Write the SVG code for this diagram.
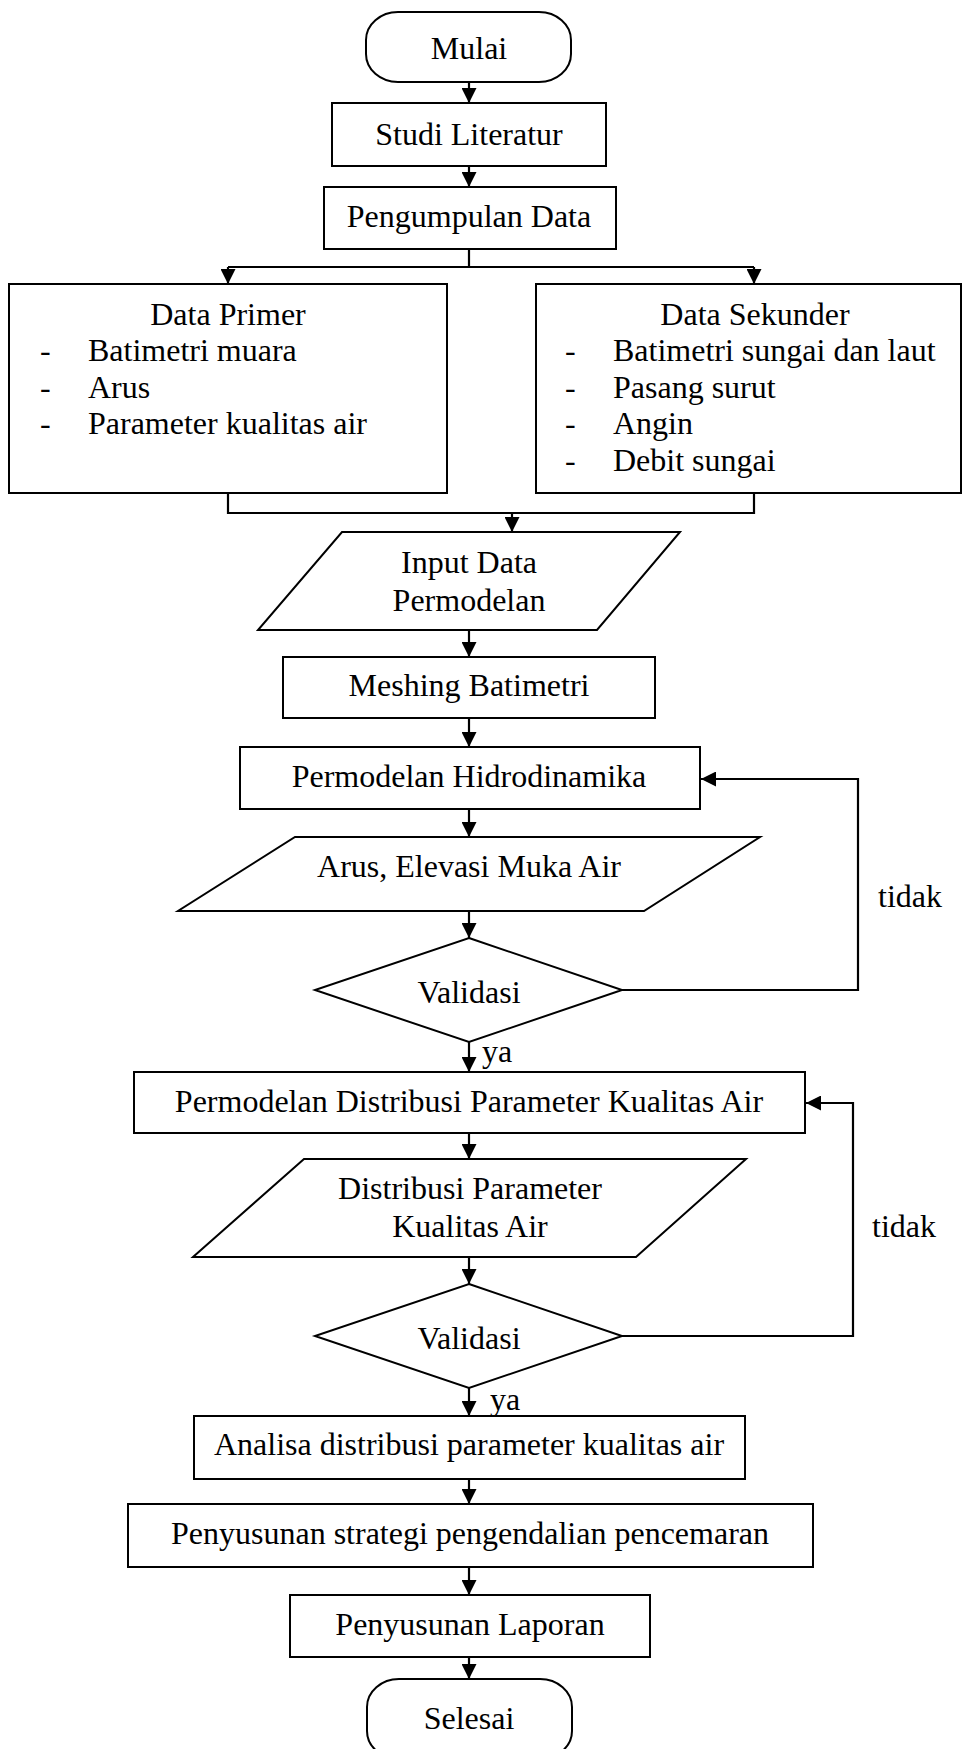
<svg xmlns="http://www.w3.org/2000/svg" width="963" height="1749" viewBox="0 0 963 1749">
<style>
.s{fill:#fff;stroke:#000;stroke-width:2}
.c{fill:none;stroke:#000;stroke-width:2.2}
text{font-family:"Liberation Serif","Times New Roman",serif;font-size:32px;fill:#000}
.m{text-anchor:middle}
</style>
<defs>
<marker id="ah" viewBox="0 0 15 15" refX="15" refY="7.5" markerWidth="15" markerHeight="15" markerUnits="userSpaceOnUse" orient="auto">
<path d="M0,0 L15,7.5 L0,15 z" fill="#000"/>
</marker>
</defs>
<rect width="963" height="1749" fill="#fff"/>
<g id="connectors">
<path class="c" d="M469,82 V103" marker-end="url(#ah)"/>
<path class="c" d="M469,166 V187" marker-end="url(#ah)"/>
<path class="c" d="M469,249 V267 M228,267 H754"/>
<path class="c" d="M228,267 V284" marker-end="url(#ah)"/>
<path class="c" d="M754,267 V284" marker-end="url(#ah)"/>
<path class="c" d="M228,493 V513 H754 V493"/>
<path class="c" d="M512,513 V532" marker-end="url(#ah)"/>
<path class="c" d="M469,630 V657" marker-end="url(#ah)"/>
<path class="c" d="M469,718 V747" marker-end="url(#ah)"/>
<path class="c" d="M469,809 V837" marker-end="url(#ah)"/>
<path class="c" d="M469,911 V938" marker-end="url(#ah)"/>
<path class="c" d="M469,1042 V1072" marker-end="url(#ah)"/>
<path class="c" d="M622,990 H858 V779 H701" marker-end="url(#ah)"/>
<path class="c" d="M469,1133 V1159" marker-end="url(#ah)"/>
<path class="c" d="M469,1257 V1284" marker-end="url(#ah)"/>
<path class="c" d="M469,1388 V1416" marker-end="url(#ah)"/>
<path class="c" d="M622,1336 H853 V1103 H806" marker-end="url(#ah)"/>
<path class="c" d="M469,1479 V1504" marker-end="url(#ah)"/>
<path class="c" d="M469,1567 V1595" marker-end="url(#ah)"/>
<path class="c" d="M469,1657 V1679" marker-end="url(#ah)"/>
<text x="878" y="907">tidak</text>
<text x="482" y="1062">ya</text>
<text x="872" y="1237">tidak</text>
<text x="490" y="1410">ya</text>
</g>
<g id="mulai">
<rect class="s" x="366" y="12" width="205" height="70" rx="32" ry="28"/>
<text class="m" x="469" y="59">Mulai</text>
</g>
<g id="studi">
<rect class="s" x="332" y="103" width="274" height="63"/>
<text class="m" x="469" y="145">Studi Literatur</text>
</g>
<g id="pengumpulan">
<rect class="s" x="324" y="187" width="292" height="62"/>
<text class="m" x="469" y="227">Pengumpulan Data</text>
</g>
<g id="primer">
<rect class="s" x="9" y="284" width="438" height="209"/>
<text class="m" x="228" y="325">Data Primer</text>
<text x="40" y="361">-</text><text x="88" y="361">Batimetri muara</text>
<text x="40" y="398">-</text><text x="88" y="398">Arus</text>
<text x="40" y="434">-</text><text x="88" y="434">Parameter kualitas air</text>
</g>
<g id="sekunder">
<rect class="s" x="536" y="284" width="425" height="209"/>
<text class="m" x="755" y="325">Data Sekunder</text>
<text x="565" y="361">-</text><text x="613" y="361">Batimetri sungai dan laut</text>
<text x="565" y="398">-</text><text x="613" y="398">Pasang surut</text>
<text x="565" y="434">-</text><text x="613" y="434">Angin</text>
<text x="565" y="471">-</text><text x="613" y="471">Debit sungai</text>
</g>
<g id="input">
<polygon class="s" points="342,532 680,532 597,630 258,630"/>
<text class="m" x="469" y="573">Input Data</text>
<text class="m" x="469" y="611">Permodelan</text>
</g>
<g id="meshing">
<rect class="s" x="283" y="657" width="372" height="61"/>
<text class="m" x="469" y="696">Meshing Batimetri</text>
</g>
<g id="hidro">
<rect class="s" x="240" y="747" width="460" height="62"/>
<text class="m" x="469" y="787">Permodelan Hidrodinamika</text>
</g>
<g id="arus">
<polygon class="s" points="295,837 760,837 644,911 178,911"/>
<text class="m" x="469" y="877">Arus, Elevasi Muka Air</text>
</g>
<g id="validasi1">
<polygon class="s" points="469,938 622,990 469,1042 315,990"/>
<text class="m" x="469" y="1003">Validasi</text>
</g>
<g id="distribusi">
<rect class="s" x="134" y="1072" width="671" height="61"/>
<text class="m" x="469" y="1112">Permodelan Distribusi Parameter Kualitas Air</text>
</g>
<g id="hasil">
<polygon class="s" points="304,1159 746,1159 636,1257 193,1257"/>
<text class="m" x="470" y="1199">Distribusi Parameter</text>
<text class="m" x="470" y="1237">Kualitas Air</text>
</g>
<g id="validasi2">
<polygon class="s" points="469,1284 622,1336 469,1388 315,1336"/>
<text class="m" x="469" y="1349">Validasi</text>
</g>
<g id="analisa">
<rect class="s" x="194" y="1416" width="551" height="63"/>
<text class="m" x="469" y="1455">Analisa distribusi parameter kualitas air</text>
</g>
<g id="strategi">
<rect class="s" x="128" y="1504" width="685" height="63"/>
<text class="m" x="470" y="1544">Penyusunan strategi pengendalian pencemaran</text>
</g>
<g id="laporan">
<rect class="s" x="290" y="1595" width="360" height="62"/>
<text class="m" x="470" y="1635">Penyusunan Laporan</text>
</g>
<g id="selesai">
<rect class="s" x="367" y="1679" width="205" height="80" rx="32" ry="28"/>
<text class="m" x="469" y="1729">Selesai</text>
</g>
</svg>
